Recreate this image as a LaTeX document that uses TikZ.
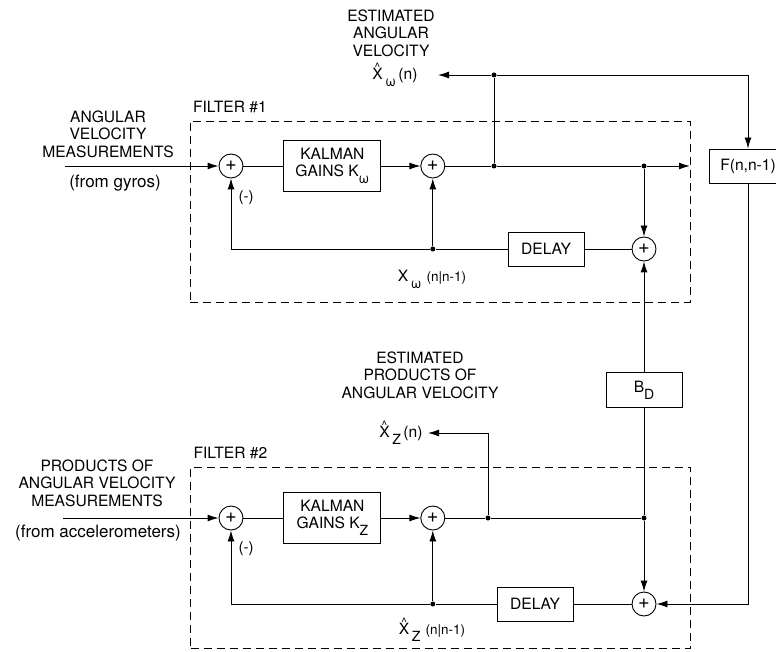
\documentclass[tikz,border=0pt]{standalone}
\usepackage{fontspec}
\setmainfont{TeX Gyre Heros}
\usetikzlibrary{positioning,arrows.meta}

\newcommand{\lowidx}[1]{\raisebox{-0.45em}{\fontsize{14}{14}\selectfont #1}}
\newcommand{\hatletter}[1]{\leavevmode\vbox{\offinterlineskip
    \halign{\hfil##\hfil\cr{\fontsize{12}{12}\selectfont\textasciicircum}\cr
    \noalign{\kern-3pt}#1\cr}}}

\begin{document}
\begin{tikzpicture}[
    x=1pt, y=-1pt,
    line width=0.9pt,
    font=\fontsize{15.6}{17.5}\selectfont,
    node distance=40pt,
    % Node styles
    sum/.style={draw, circle, minimum size=24pt, inner sep=0pt, font=\fontsize{20}{20}\selectfont},
    block/.style={draw, minimum width=97pt, minimum height=51pt, align=center, inner sep=2pt},
    delaybox/.style={draw, minimum width=76pt, minimum height=34pt},
    junc/.style={circle, fill, inner sep=0pt, minimum size=5pt},
    caption/.style={align=center, inner sep=0pt},
    estim/.style={inner sep=0pt},
    note/.style={font=\fontsize{17}{19}\selectfont},
    small/.style={font=\fontsize{15}{16}\selectfont, inner sep=0pt},
    filterbox/.style={draw, dash pattern=on 8pt off 5pt, minimum width=500pt, minimum height=181pt},
    arrow/.style={-{Latex[length=11pt, width=7pt]}},
]
    \useasboundingbox (0,0) rectangle (776,652);

    % Filter #1
    \node[filterbox] (f1) at (440,211.5) {};
    \node[anchor=base west, inner sep=0pt] (f1lab) at ([shift={(3,-8)}]f1.north west) {FILTER \#1};
    \node[sum] (s1) at (231,166) {+};
    \node[block, right=40pt of s1] (k1) {KALMAN\\GAINS K\lowidx{ω}};
    \node[sum, right=39pt of k1] (s2) {+};
    \node[junc] (j1) at (494,166) {};
    \node[junc] (j2) at (644,166) {};
    \node[sum] (s3) at (644,249) {+};
    \node[delaybox] (d1) at (546,249) {DELAY};
    \node[junc] (j3) at (s2 |- s3) {};
    \node[junc] (j4) at (494,75) {};
    \node[block, minimum width=78pt, minimum height=34pt] (F) at (748,166) {F(n,n-1)};
    \coordinate (in1) at (65,166);
    \coordinate (o1) at (690,166);
    \coordinate (e1) at (438,75);

    % Filter #2
    \node[filterbox] (f2) at (440.5,557.5) {};
    \node[anchor=base west, inner sep=0pt] (f2lab) at ([shift={(3,-8)}]f2.north west) {FILTER \#2};
    \node[sum] (s5) at (231,518) {+};
    \node[block, right=40pt of s5] (k2) {KALMAN\\GAINS K\lowidx{Z}};
    \node[sum, right=39pt of k2] (s6) {+};
    \node[junc] (j5) at (488,518) {};
    \node[junc] (j6) at (644,518) {};
    \node[sum] (s4) at (644,604) {+};
    \node[delaybox] (d2) at (535,604) {DELAY};
    \node[junc] (j7) at (s6 |- s4) {};
    \node[block, minimum width=76pt, minimum height=35pt] (bd) at (644,390) {B\lowidx{D}};
    \coordinate (in2) at (63,518);
    \coordinate (e2) at (428,433);

    % Labels
    \node[caption] (t1) at (391,33) {ESTIMATED\\ANGULAR\\VELOCITY};
    \node[estim, left=20pt of e1] (xw) {\hatletter{X}\,\lowidx{ω}\,(n)};
    \node[caption] (m1) at (108,134) {ANGULAR\\VELOCITY\\MEASUREMENTS};
    \node[note] (g1) at (115,183) {(from gyros)};
    \node[small] (neg1) at (246,198) {(-)};
    \node[estim] (xwp) at (432,279) {X\,\lowidx{ω}\,\,{\fontsize{13.5}{13.5}\selectfont(n|n-1)}};
    \node[caption] (t2) at (420,375) {ESTIMATED\\PRODUCTS OF\\ANGULAR VELOCITY};
    \node[estim, left=5pt of e2] (xz) {\hatletter{X}\,\lowidx{Z}\,(n)};
    \node[caption] (m2) at (97,483) {PRODUCTS OF\\ANGULAR VELOCITY\\MEASUREMENTS};
    \node[note] (g2) at (98,533) {(from accelerometers)};
    \node[small] (neg2) at (246,549) {(-)};
    \node[estim] (xzp) at (432,630) {\hatletter{X}\,\lowidx{Z}\,\,{\fontsize{13.5}{13.5}\selectfont(n|n-1)}};

    % Connections, filter #1
    \draw[arrow] (in1) -- (s1);
    \draw (s1) -- (k1);
    \draw[arrow] (k1) -- (s2);
    \draw (s2) -- (j1) -- (j2);
    \draw[arrow] (j2) -- (o1);
    \draw[arrow] (j2) -- (s3);
    \draw (s3) -- (d1);
    \draw (d1) -- (j3);
    \draw[arrow] (j3) -- (s2);
    \draw[arrow] (j3) -| (s1);
    \draw (j1) -- (j4);
    \draw[arrow] (j4) -- (e1);
    \draw[arrow] (j4) -| (F);
    \draw[arrow] (bd) -- (s3);

    % Connections, filter #2
    \draw[arrow] (in2) -- (s5);
    \draw (s5) -- (k2);
    \draw[arrow] (k2) -- (s6);
    \draw (s6) -- (j5) -- (j6);
    \draw[arrow] (j6) -- (s4);
    \draw (j6) -- (bd);
    \draw (s4) -- (d2);
    \draw (d2) -- (j7);
    \draw[arrow] (j7) -- (s6);
    \draw[arrow] (j7) -| (s5);
    \draw[arrow] (j5) |- (e2);
    \draw[arrow] (F) |- (s4);

\end{tikzpicture}
\end{document}
